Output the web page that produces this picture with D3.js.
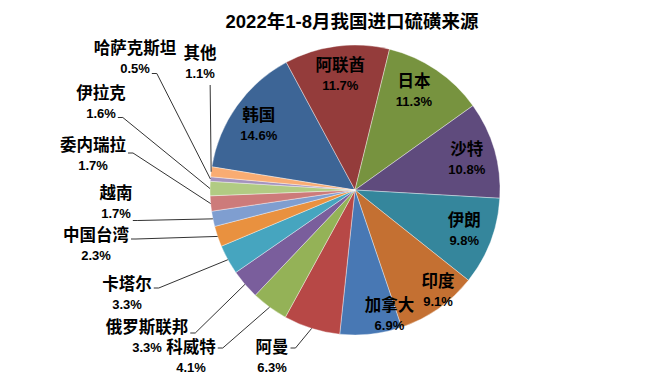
<!DOCTYPE html>
<html><head><meta charset="utf-8">
<script src="https://cdn.jsdelivr.net/npm/d3@7"></script>
<style>
html,body{margin:0;padding:0;background:#fff;}
svg{display:block;}
</style>
</head><body>
<script>
// ---- data ----
const title = "2022年1-8月我国进口硫磺来源";
const categories = ["韩国","阿联酋","日本","沙特","伊朗","印度","加拿大","阿曼","科威特","俄罗斯联邦","卡塔尔","中国台湾","越南","委内瑞拉","伊拉克","哈萨克斯坦","其他"];
const values = [14.6,11.7,11.3,10.8,9.8,9.1,6.9,6.3,4.1,3.3,3.3,2.3,1.7,1.7,1.6,0.5,1.1];
const colors = ["#3D6596","#943C3B","#77933F","#5F4B7D","#35869C","#C47032","#4878B4","#B74846","#94B257","#7A5E9C","#46A5BF","#E9913F","#7F9ED0","#CD7B7A","#B1CB83","#A493BE","#F9AC72"];

// ---- layout ----
const W = 659, H = 378;
const cx = 355, cy = 190, R = 145;
const startDeg = -80.8;
// inside labels: [radius, angle adjust in degrees]
const insideLayout = {"韩国":[116,-1.5],"阿联酋":[116,0],"日本":[115,-3.3],"沙特":[116,0.7],"伊朗":[116.5,-0.5],"印度":[131,-4.2],"加拿大":[130,-9]};
// outside labels: name centre, leader attach
const outsideLayout = {
  "其他":[200,53,"bottom",0],
  "哈萨克斯坦":[135,48,"pct",5],
  "伊拉克":[101,93,"pct",4],
  "委内瑞拉":[93,145,"name",8],
  "越南":[116,193,"pct",7],
  "中国台湾":[96,235,"name",4],
  "卡塔尔":[127,284,"name",4],
  "俄罗斯联邦":[147,327,"name",6],
  "科威特":[191,347,"name",1],
  "阿曼":[272,347,"name",1]
};

const svg = d3.select("body").append("svg").attr("width",W).attr("height",H);

svg.append("text").attr("x",352).attr("y",28).attr("text-anchor","middle")
  .style("font-family","'Liberation Sans','Noto Sans CJK SC',sans-serif")
  .style("font-weight","bold").style("font-size","18.5px").attr("fill","#000").text(title);

const toRad = d => d*Math.PI/180;
const pie = d3.pie().sort(null).value(d=>d.v).startAngle(toRad(startDeg)).endAngle(toRad(startDeg)+2*Math.PI);
const data = categories.map((c,i)=>({c, v:values[i], col:colors[i]}));
const arcs = pie(data);
const arc = d3.arc().innerRadius(0).outerRadius(R);

const g = svg.append("g").attr("transform",`translate(${cx},${cy})`);
g.selectAll("path.slice").data(arcs).join("path").attr("class","slice")
  .attr("d",arc).attr("fill",d=>d.data.col)
  .attr("stroke","rgba(255,255,255,0.55)").attr("stroke-width",0.7);

const nameFont = "'Noto Sans CJK SC',sans-serif";
const pctFont = "'Liberation Sans',Arial,sans-serif";

function drawLabel(x, y, d){ // x,y = name glyph centre
  const n = svg.append("text").attr("x",x).attr("y",y+6.2).attr("text-anchor","middle")
    .style("font-family",nameFont).style("font-weight","bold").style("font-size","16.5px").attr("fill","#000").text(d.data.c);
  const p = svg.append("text").attr("x",x).attr("y",y+20.5+4.7).attr("text-anchor","middle")
    .style("font-family",pctFont).style("font-weight","bold").style("font-size","13px").attr("fill","#000").text(d.data.v.toFixed(1)+"%");
  return [n,p];
}

arcs.forEach(d=>{
  const mid = (d.startAngle+d.endAngle)/2;
  if (insideLayout[d.data.c]) {
    const [rr, adj] = insideLayout[d.data.c];
    const a = mid + toRad(adj);
    const bx = cx + Math.sin(a)*rr, by = cy - Math.cos(a)*rr;
    drawLabel(bx, by-10.5, d);
  } else if (outsideLayout[d.data.c]) {
    const [x,y,att,dy] = outsideLayout[d.data.c];
    const [n,p] = drawLabel(x,y,d);
    const ex = cx + Math.sin(mid)*R, ey = cy - Math.cos(mid)*R;
    let pts;
    if (att==="bottom") {
      pts = [[ex-1, y+32],[ex, ey]];
    } else {
      const node = att==="name" ? n.node() : p.node();
      const w = node.getComputedTextLength();
      const sx = x + w/2 + 2;
      const sy = (att==="name" ? y : y+20.5) + dy;
      pts = [[sx,sy],[sx+5,sy],[ex,ey]];
    }
    svg.append("path").attr("d",d3.line()(pts)).attr("fill","none")
      .attr("stroke","#333").attr("stroke-width",1);
  }
});
</script>
</body></html>
